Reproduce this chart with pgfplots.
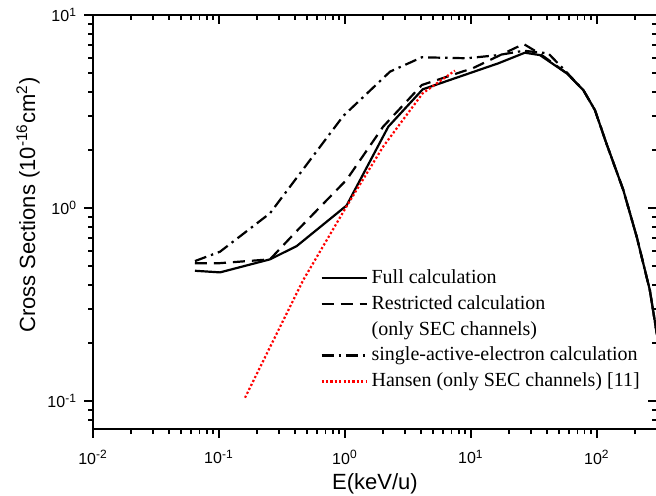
\documentclass[border=0pt]{standalone}
\usepackage{fontspec}
\setmainfont{Liberation Sans}
\newfontfamily\serif{Liberation Serif}
\usepackage{pgfplots}
\pgfplotsset{compat=1.18}

\begin{document}
\begin{tikzpicture}
% top/right inward ticks
\begin{axis}[
  xmode=log, ymode=log,
  xmin=0.01, xmax=300, ymin=0.0716, ymax=10,
  scale only axis, width=282pt, height=207pt,
  axis line style={line width=1pt},
  every tick/.style={line width=0.8pt, black},
  major tick length=4.5pt, minor tick length=2.5pt,
  xtick={0.01,0.1,1,10,100},
  ytick={0.1,1,10},
  minor xtick={0.02,0.03,0.04,0.05,0.06,0.07,0.08,0.09,0.2,0.3,0.4,0.5,0.6,0.7,0.8,0.9,2,3,4,5,6,7,8,9,20,30,40,50,60,70,80,90,200,300},
  minor ytick={0.08,0.09,0.2,0.3,0.4,0.5,0.6,0.7,0.8,0.9,2,3,4,5,6,7,8,9},
  tick align=inside, xtick pos=upper, ytick pos=right,
  xticklabels={}, yticklabels={}]
\addplot[draw=none] coordinates {(1,1)};
\end{axis}
\begin{axis}[
  xmode=log, ymode=log,
  xmin=0.01, xmax=300, ymin=0.0716, ymax=10,
  scale only axis, width=282pt, height=207pt,
  axis line style={line width=1pt},
  every tick/.style={line width=0.8pt, black},
  major tick length=4.5pt, minor tick length=2.5pt,
  xtick={0.01,0.1,1,10,100},
  ytick={0.1,1,10},
  minor xtick={0.02,0.03,0.04,0.05,0.06,0.07,0.08,0.09,0.2,0.3,0.4,0.5,0.6,0.7,0.8,0.9,2,3,4,5,6,7,8,9,20,30,40,50,60,70,80,90,200,300},
  minor ytick={0.08,0.09,0.2,0.3,0.4,0.5,0.6,0.7,0.8,0.9,2,3,4,5,6,7,8,9},
  tick align=outside, xtick pos=lower, ytick pos=left,
  tick label style={font=\fontsize{8}{9.5}\selectfont},
  xticklabel style={yshift=-2.5pt},
  xticklabels={10\textsuperscript{-2},10\textsuperscript{-1},10\textsuperscript{0},10\textsuperscript{1},10\textsuperscript{2}},
  yticklabels={10\textsuperscript{-1},10\textsuperscript{0},10\textsuperscript{1}},
  xlabel={E(keV/u)},
  ylabel={Cross Sections (10\textsuperscript{-16}cm\textsuperscript{2})},
  label style={font=\fontsize{11}{13}\selectfont},
  xlabel style={at={(axis description cs:0.5,-0.133)}, anchor=center},
  ylabel style={at={(axis description cs:-0.1152,0.541)}, anchor=center},
  legend style={at={(0.4025,0.396)}, anchor=north west, draw=none, fill=none,
    font=\serif\fontsize{10}{12}\selectfont, row sep=0.5pt, inner sep=0pt,
    cells={anchor=west}},
  legend image code/.code={\draw[#1] (0pt,0pt) -- (22.5pt,0pt);},
  every axis plot/.append style={line width=1.1pt},
]
\addplot[black, solid] coordinates {
(0.0645,0.473) (0.102,0.464) (0.254,0.542) (0.414,0.635) (1.03,1.03) (2.21,2.64) (4.14,4.12) (16.5,5.62) (26.8,6.38) (35.3,6.2) (57.5,4.99) (77.9,4.09) (96.4,3.22) (119,2.16) (162,1.24) (207,0.71) (263,0.376) (300,0.22)
};
\addlegendentry{Full calculation}
\addplot[black, dash pattern=on 6pt off 3.5pt] coordinates {
(0.0645,0.517) (0.102,0.518) (0.254,0.542) (0.414,0.76) (1.03,1.4) (2.01,2.64) (4.08,4.34) (10.4,5.31) (26.2,7.08) (35.3,6.3) (57.5,5.0) (77.9,4.09) (96.4,3.22) (119,2.16) (162,1.24) (207,0.71) (263,0.376) (300,0.22)
};
\addlegendentry{Restricted calculation}
\addlegendimage{empty legend}
\addlegendentry{(only SEC channels)}
\addplot[black, dash pattern=on 6pt off 2.5pt on 1.2pt off 2.5pt] coordinates {
(0.0645,0.531) (0.102,0.594) (0.254,0.939) (0.97,3.0) (2.28,5.09) (4.08,6.04) (9.24,5.97) (16.5,6.2) (26.2,6.53) (41.1,6.33) (57.5,5.05) (77.9,4.09) (96.4,3.22) (119,2.16) (162,1.24) (207,0.71) (263,0.376) (300,0.22)
};
\addlegendentry{single-active-electron calculation}
\addplot[red, line width=1.1pt, dash pattern=on 1.1pt off 1.1pt] coordinates {
(0.161,0.104) (0.254,0.19) (0.467,0.424) (1.03,1.02) (2.01,2.08) (4.14,3.93) (7.46,5.15)
};
\addlegendentry{Hansen (only SEC channels) [11]}
\end{axis}
\pgfresetboundingbox
\path[use as bounding box] (-46.5pt,-33pt) rectangle (281.5pt,214.5pt);
\end{tikzpicture}
\end{document}
